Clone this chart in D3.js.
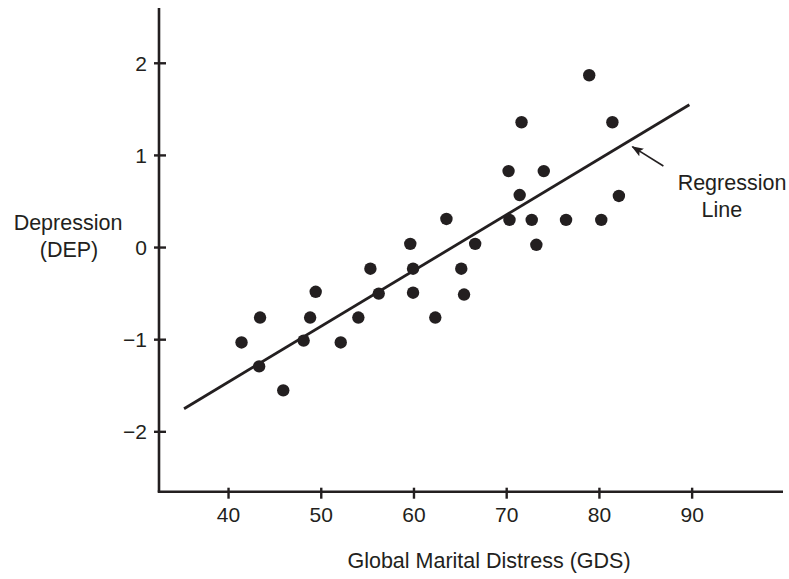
<!DOCTYPE html>
<html>
<head>
<meta charset="utf-8">
<script src="https://cdn.jsdelivr.net/npm/d3@7.9.0/dist/d3.min.js"></script>
<style>
  body { margin: 0; background: #fff; }
  svg { display: block; }
  text { font-family: "Liberation Sans", Arial, Helvetica, sans-serif; fill: #231f20; }
</style>
</head>
<body>
<svg id="chart" width="789" height="579"></svg>
<script>
// scatter data
const gds = [41.4, 43.4, 43.3, 45.9, 49.4, 48.1, 48.8, 52.1, 54.0, 55.3, 56.2,
             59.6, 59.9, 59.9, 62.3, 63.5, 65.1, 65.4, 66.6, 70.2, 70.3, 71.6,
             71.4, 72.7, 73.2, 74.0, 76.4, 78.9, 80.2, 81.4, 82.1];
const dep = [-1.03, -0.76, -1.29, -1.55, -0.48, -1.01, -0.76, -1.03, -0.76, -0.23, -0.50,
             0.04, -0.23, -0.49, -0.76, 0.31, -0.23, -0.51, 0.04, 0.83, 0.30, 1.36,
             0.57, 0.30, 0.03, 0.83, 0.30, 1.87, 0.30, 1.36, 0.56];

// regression line end points
const lineX = [35.2, 89.7];
const lineY = [-1.75, 1.55];

const xTicks = [40, 50, 60, 70, 80, 90];
const yTicks = [-2, -1, 0, 1, 2];

const ink = "#231f20";
const svg = d3.select("#chart");

const x = d3.scaleLinear().domain([32.5, 99.8]).range([159, 783]);
const y = d3.scaleLinear().domain([-2.65, 2.6]).range([491.7, 8]);

// axes drawn by hand so ticks cross the line
svg.append("line")
  .attr("x1", x(32.5)).attr("x2", x(32.5))
  .attr("y1", y(2.6)).attr("y2", y(-2.65))
  .attr("stroke", ink).attr("stroke-width", 2.6);
svg.append("line")
  .attr("x1", x(32.5) - 1.3).attr("x2", x(99.8))
  .attr("y1", y(-2.65)).attr("y2", y(-2.65))
  .attr("stroke", ink).attr("stroke-width", 2.6);

const xt = svg.append("g").selectAll("g").data(xTicks).enter().append("g");
xt.append("line")
  .attr("x1", d => x(d)).attr("x2", d => x(d))
  .attr("y1", y(-2.65) - 4).attr("y2", y(-2.65) + 7)
  .attr("stroke", ink).attr("stroke-width", 2.4);
xt.append("text")
  .attr("x", d => x(d)).attr("y", 522)
  .attr("text-anchor", "middle")
  .attr("font-size", 21)
  .text(d => d);

const yt = svg.append("g").selectAll("g").data(yTicks).enter().append("g");
yt.append("line")
  .attr("x1", x(32.5) - 5).attr("x2", x(32.5) + 7)
  .attr("y1", d => y(d)).attr("y2", d => y(d))
  .attr("stroke", ink).attr("stroke-width", 2.4);
yt.append("text")
  .attr("x", 147).attr("y", d => y(d))
  .attr("dy", "0.35em")
  .attr("text-anchor", "end")
  .attr("font-size", 21)
  .text(d => d < 0 ? "\u2212" + Math.abs(d) : d);

// regression line
svg.append("line")
  .attr("x1", x(lineX[0])).attr("y1", y(lineY[0]))
  .attr("x2", x(lineX[1])).attr("y2", y(lineY[1]))
  .attr("stroke", ink).attr("stroke-width", 2.8);

// points
svg.append("g").selectAll("circle")
  .data(gds.map((g, i) => [g, dep[i]]))
  .enter()
  .append("circle")
  .attr("cx", d => x(d[0]))
  .attr("cy", d => y(d[1]))
  .attr("r", 6.2)
  .attr("fill", ink);

// annotation arrow
const arrowTail = [86.9, 0.885];
const arrowTip = [83.55, 1.095];
svg.append("defs").append("marker")
  .attr("id", "head")
  .attr("viewBox", "0 0 12 10")
  .attr("refX", 11).attr("refY", 5)
  .attr("markerUnits", "userSpaceOnUse")
  .attr("markerWidth", 12).attr("markerHeight", 10)
  .attr("orient", "auto")
  .append("path")
  .attr("d", "M0,0.5 L12,5 L0,9.5 L2.5,5 Z")
  .attr("fill", ink);
svg.append("line")
  .attr("x1", x(arrowTail[0])).attr("y1", y(arrowTail[1]))
  .attr("x2", x(arrowTip[0])).attr("y2", y(arrowTip[1]))
  .attr("stroke", ink).attr("stroke-width", 1.6)
  .attr("marker-end", "url(#head)");

svg.append("text")
  .attr("x", x(94.3)).attr("y", y(0.624))
  .attr("text-anchor", "middle").attr("font-size", 21.5)
  .text("Regression");
svg.append("text")
  .attr("x", x(93.2)).attr("y", y(0.334))
  .attr("text-anchor", "middle").attr("font-size", 21.5)
  .text("Line");

// axis titles
svg.append("text")
  .attr("x", 68).attr("y", 230)
  .attr("text-anchor", "middle").attr("font-size", 21.5)
  .text("Depression");
svg.append("text")
  .attr("x", 69).attr("y", 257)
  .attr("text-anchor", "middle").attr("font-size", 21.5)
  .text("(DEP)");
svg.append("text")
  .attr("x", 489).attr("y", 568)
  .attr("text-anchor", "middle").attr("font-size", 21.5)
  .text("Global Marital Distress (GDS)");
</script>
</body>
</html>
